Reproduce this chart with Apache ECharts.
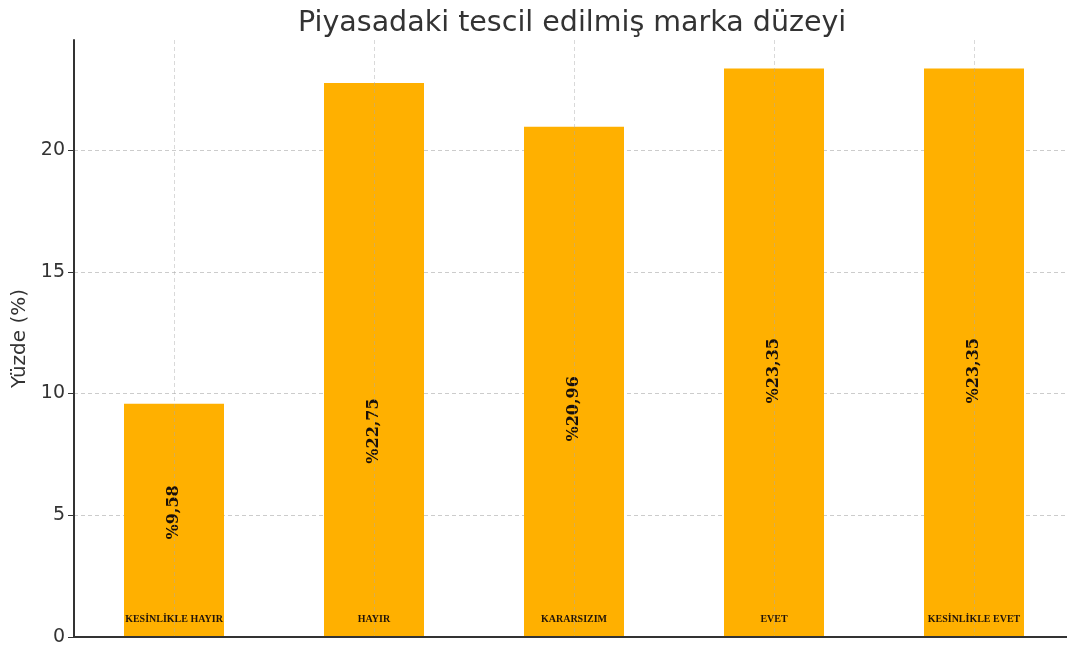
<!DOCTYPE html>
<html>
<head>
<meta charset="utf-8">
<script src="https://cdn.jsdelivr.net/npm/echarts@6/dist/echarts.min.js"></script>
<style>
  html, body { margin: 0; padding: 0; background: #fff; overflow: hidden; }
  /* the reference plot runs a few px past the right edge of the picture */
  #chart { width: 1074px; height: 650px; }
</style>
</head>
<body>
<div id="chart"></div>
<script>
// categories and values
const categories = ['KESİNLİKLE HAYIR', 'HAYIR', 'KARARSIZIM', 'EVET', 'KESİNLİKLE EVET']
const percents = [9.58, 22.75, 20.96, 23.35, 23.35]
const yTicks = [0, 5, 10, 15, 20]
// vertical nudge of the value labels (px), they aren't centred in the reference
const labelShift = [-8, 71, 27, 18, 18]

const barColor = '#ffb000'
const chart = echarts.init(document.getElementById('chart'))

// helper axis on half steps so the vertical grid lines sit on the bar centres
const halfSteps = []
for (let i = 0; i <= categories.length * 2; i++) halfSteps.push(String(i))

const option = {
    backgroundColor: '#fff',
    animation: false,
    title: {
        text: 'Piyasadaki tescil edilmiş marka düzeyi',
        left: 293,
        top: 4,
        textStyle: {
            fontFamily: 'DejaVu Sans',
            fontWeight: 'normal',
            fontSize: 28.5,
            color: '#333'
        }
    },
    grid: {
        left: 74,
        right: 0,
        top: 40,
        bottom: 13,
        containLabel: false
    },
    xAxis: [{
        type: 'category',
        data: categories,
        z: 4,
        axisLine: { lineStyle: { color: '#333', width: 2 } },
        axisTick: { inside: true, alignWithLabel: true, length: 6, lineStyle: { color: '#555' } },
        axisLabel: {
            inside: true,
            margin: 13,
            fontFamily: 'Liberation Serif',
            fontWeight: 'bold',
            fontSize: 10,
            color: '#22150a'
        },
        splitLine: { show: false }
    }, {
        type: 'category',
        data: halfSteps,
        boundaryGap: false,
        position: 'bottom',
        z: 3,
        axisLine: { show: false },
        axisTick: { show: false },
        axisLabel: { show: false },
        splitLine: {
            show: true,
            interval: (i) => i % 2 === 1,
            lineStyle: { type: [4, 3], color: 'rgba(170,170,170,0.45)', width: 1 }
        }
    }],
    yAxis: {
        type: 'value',
        min: yTicks[0],
        max: 24.52,
        interval: 5,
        name: 'Yüzde (%)',
        nameLocation: 'middle',
        nameGap: 41,
        nameTextStyle: { fontFamily: 'DejaVu Sans', fontSize: 20, color: '#333' },
        axisLine: { show: true, lineStyle: { color: '#333', width: 2 } },
        axisTick: { show: true, length: 6, lineStyle: { color: '#333' } },
        axisLabel: {
            showMaxLabel: false,
            margin: 9,
            fontFamily: 'DejaVu Sans',
            fontSize: 19,
            color: '#333'
        },
        splitLine: {
            showMaxLine: false,
            lineStyle: { type: [4, 3], color: '#ccc', width: 1 }
        }
    },
    series: [{
        type: 'bar',
        xAxisIndex: 0,
        barWidth: '50%',
        itemStyle: { color: barColor },
        data: percents.map((v, i) => ({
            value: v,
            label: { offset: [-labelShift[i], 0] }
        })),
        label: {
            show: true,
            position: 'inside',
            rotate: 90,
            fontFamily: 'DejaVu Serif',
            fontWeight: 'bold',
            fontSize: 16,
            color: '#1a1008',
            formatter: p => '%' + String(p.value).replace('.', ',')
        }
    }]
}

chart.setOption(option)
</script>
</body>
</html>
